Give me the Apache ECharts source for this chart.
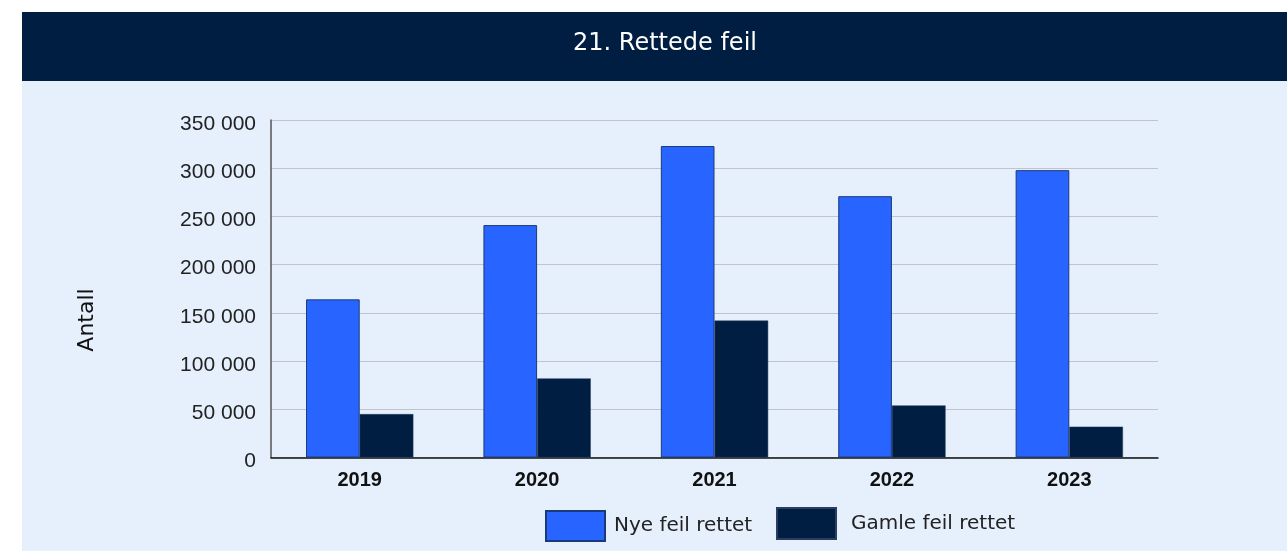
<!DOCTYPE html>
<html>
<head>
<meta charset="utf-8" />
<title>Rettede feil</title>
<script src="https://cdn.jsdelivr.net/npm/echarts@6/dist/echarts.min.js"></script>
<style>
  html, body { margin: 0; padding: 0; background: #ffffff; }
  #main { width: 1287px; height: 551px; }
</style>
</head>
<body>
<div id="main"></div>
<script>
// data
var years = ['2019', '2020', '2021', '2022', '2023'];
var nyeFeil = [164000, 241000, 323000, 271000, 298000];
var gamleFeil = [45000, 82000, 142000, 54000, 32000];
var seriesNames = ['Nye feil rettet', 'Gamle feil rettet'];

var font = '"DejaVu Sans", "Noto Sans", sans-serif';
var numFont = '"Liberation Sans", Arial, sans-serif';

function fmt(v) {
    return String(v).replace(/\B(?=(\d{3})+(?!\d))/g, ' ');
}

var myChart = echarts.init(document.getElementById('main'));

var legendText = { fontFamily: font, fontSize: 20, color: '#222' };

var option = {
    backgroundColor: '#ffffff',
    animation: false,
    graphic: [
        {
            type: 'rect',
            z: -10,
            shape: { x: 22, y: 80, width: 1265, height: 471 },
            style: { fill: '#E6F0FD' }
        },
        {
            type: 'rect',
            z: -10,
            shape: { x: 22, y: 12, width: 1265, height: 69 },
            style: { fill: '#001E42' }
        },
        {
            type: 'text',
            x: 665,
            y: 44,
            style: {
                text: '21. Rettede feil',
                fill: '#ffffff',
                font: '24px ' + font,
                align: 'center',
                verticalAlign: 'middle'
            }
        },
        {
            type: 'text',
            x: 87,
            y: 320,
            rotation: Math.PI / 2,
            style: {
                text: 'Antall',
                fill: '#111',
                font: '22px ' + font,
                align: 'center',
                verticalAlign: 'middle'
            }
        }
    ],
    legend: [
        {
            data: [seriesNames[0]],
            left: 545,
            top: 510,
            padding: 0,
            itemWidth: 59,
            itemHeight: 30,
            icon: 'rect',
            textStyle: echarts.util.extend({ padding: [0, 0, 3, 4] }, legendText)
        },
        {
            data: [seriesNames[1]],
            left: 776,
            top: 507,
            padding: 0,
            itemWidth: 59,
            itemHeight: 31,
            icon: 'rect',
            textStyle: echarts.util.extend({ padding: [0, 0, 0, 10] }, legendText)
        }
    ],
    grid: {
        left: 271,
        right: 129,
        top: 120,
        bottom: 93.5
    },
    xAxis: {
        type: 'category',
        data: years,
        axisLine: { lineStyle: { color: '#111', width: 1.5 } },
        axisTick: { inside: true, length: 8, lineStyle: { color: '#333' } },
        axisLabel: { fontFamily: numFont, fontSize: 20, fontWeight: 'bold', color: '#111', margin: 13 }
    },
    yAxis: {
        type: 'value',
        min: 0,
        max: 350000,
        interval: 50000,
        axisLine: { show: true, lineStyle: { color: '#555', width: 1.5 } },
        axisTick: { show: false },
        splitLine: { lineStyle: { color: '#c4c4c8', width: 1.2 } },
        axisLabel: {
            fontFamily: numFont, fontSize: 21, color: '#222', margin: 15,
            verticalAlign: 'top',
            lineHeight: 8,
            formatter: function (v) { return fmt(v); }
        }
    },
    series: [
        {
            name: seriesNames[0],
            type: 'bar',
            data: nyeFeil,
            barGap: '0%',
            barCategoryGap: '39.5%',
            itemStyle: { color: '#2864FF', borderColor: '#1b3a78', borderWidth: 1 }
        },
        {
            name: seriesNames[1],
            type: 'bar',
            data: gamleFeil,
            itemStyle: { color: '#001E42', borderColor: '#2a3f60', borderWidth: 0.5 }
        }
    ]
};
myChart.setOption(option);
</script>
</body>
</html>
